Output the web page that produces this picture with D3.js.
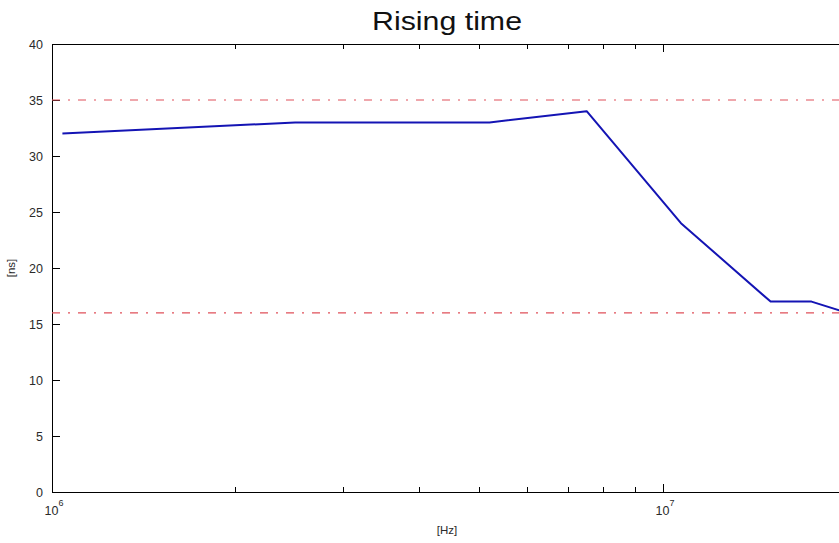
<!DOCTYPE html>
<html>
<head>
<meta charset="utf-8">
<script src="https://cdn.jsdelivr.net/npm/d3@7"></script>
<style>
  html, body { margin: 0; padding: 0; background: #fff; overflow: hidden; }
  svg { display: block; font-family: "Liberation Sans", Arial, sans-serif; }
</style>
</head>
<body>
<svg id="chart" width="839" height="543"></svg>
<script>
// Measured rise time versus switching frequency
const freqHz   = [1.04e6, 2.5e6, 5.2e6, 7.5e6, 1.07e7, 1.5e7, 1.75e7, 2e7];
const riseNs   = [32, 33, 33, 34, 24, 17, 17, 16];
// Limit lines (upper and lower bounds)
const limitsNs = [35, 16];
const yTicks   = [0, 5, 10, 15, 20, 25, 30, 35, 40];
const xMajor   = [1e6, 1e7];
const xMinor   = [2e6, 3e6, 4e6, 5e6, 6e6, 7e6, 8e6, 9e6, 2e7];
const xDomain  = [1e6, 2e7];
const yDomain  = [0, 40];

const svg = d3.select("#chart");
const plotLeft = 52, plotTop = 44, plotBottom = 492;
const decade = 611;
const plotRight = plotLeft + decade * Math.log10(xDomain[1] / xDomain[0]);

const x = d3.scaleLog().domain(xDomain).range([plotLeft, plotRight]);
const y = d3.scaleLinear().domain(yDomain).range([plotBottom, plotTop]);

const tickLen = 8, minorLen = 5;
const textColor = "#2a2a2a";

// Box
const axesG = svg.append("g").attr("stroke", "#000").attr("stroke-width", 1).attr("shape-rendering", "crispEdges");
axesG.append("rect").attr("x", plotLeft).attr("y", plotTop)
  .attr("width", plotRight - plotLeft).attr("height", plotBottom - plotTop)
  .attr("fill", "none");

// Y ticks (left and right, pointing inward)
yTicks.forEach(v => {
  axesG.append("line").attr("x1", plotLeft).attr("x2", plotLeft + tickLen).attr("y1", y(v)).attr("y2", y(v));
  axesG.append("line").attr("x1", plotRight).attr("x2", plotRight - tickLen).attr("y1", y(v)).attr("y2", y(v));
});
// X ticks (bottom and top, pointing inward)
xMajor.forEach(v => {
  axesG.append("line").attr("x1", x(v)).attr("x2", x(v)).attr("y1", plotBottom).attr("y2", plotBottom - tickLen);
  axesG.append("line").attr("x1", x(v)).attr("x2", x(v)).attr("y1", plotTop).attr("y2", plotTop + tickLen);
});
xMinor.forEach(v => {
  axesG.append("line").attr("x1", x(v)).attr("x2", x(v)).attr("y1", plotBottom).attr("y2", plotBottom - minorLen);
  axesG.append("line").attr("x1", x(v)).attr("x2", x(v)).attr("y1", plotTop).attr("y2", plotTop + minorLen);
});

// Y tick labels
svg.append("g").selectAll("text").data(yTicks).join("text")
  .attr("x", plotLeft - 9).attr("y", d => y(d)).attr("dy", "0.36em")
  .attr("text-anchor", "end").attr("font-size", 12.5).attr("fill", textColor)
  .text(d => d);

// X tick labels as 10 with exponent
const xl = svg.append("g").selectAll("text").data(xMajor).join("text")
  .attr("x", d => x(d) + 2).attr("y", plotBottom + 23)
  .attr("text-anchor", "middle").attr("font-size", 12.5).attr("fill", textColor);
xl.append("tspan").text("10");
xl.append("tspan").attr("font-size", 9).attr("dy", -9).text(d => Math.round(Math.log10(d)));

// Limit lines
svg.append("g").selectAll("line").data(limitsNs).join("line")
  .attr("x1", plotLeft).attr("x2", plotRight).attr("y1", d => y(d)).attr("y2", d => y(d))
  .attr("stroke", "#e0505a").attr("stroke-width", 1.2)
  .attr("stroke-dasharray", "8,8,2,8");

// Rise time curve
const pts = freqHz.map((f, i) => [f, riseNs[i]]);
svg.append("path").datum(pts)
  .attr("fill", "none").attr("stroke", "#1414b4").attr("stroke-width", 2)
  .attr("stroke-linejoin", "round")
  .attr("d", d3.line().x(d => x(d[0])).y(d => y(d[1])));

// Title and axis labels
svg.append("text").attr("x", 447).attr("y", 30).attr("text-anchor", "middle")
  .attr("font-size", 26).attr("fill", "#111")
  .attr("textLength", 150).attr("lengthAdjust", "spacingAndGlyphs")
  .text("Rising time");
svg.append("text").attr("x", 447).attr("y", 534).attr("text-anchor", "middle")
  .attr("font-size", 11.5).attr("fill", textColor).text("[Hz]");
svg.append("text").attr("transform", `translate(15,${(plotTop + plotBottom) / 2}) rotate(-90)`)
  .attr("text-anchor", "middle").attr("font-size", 11.5).attr("fill", textColor).text("[ns]");
</script>
</body>
</html>
